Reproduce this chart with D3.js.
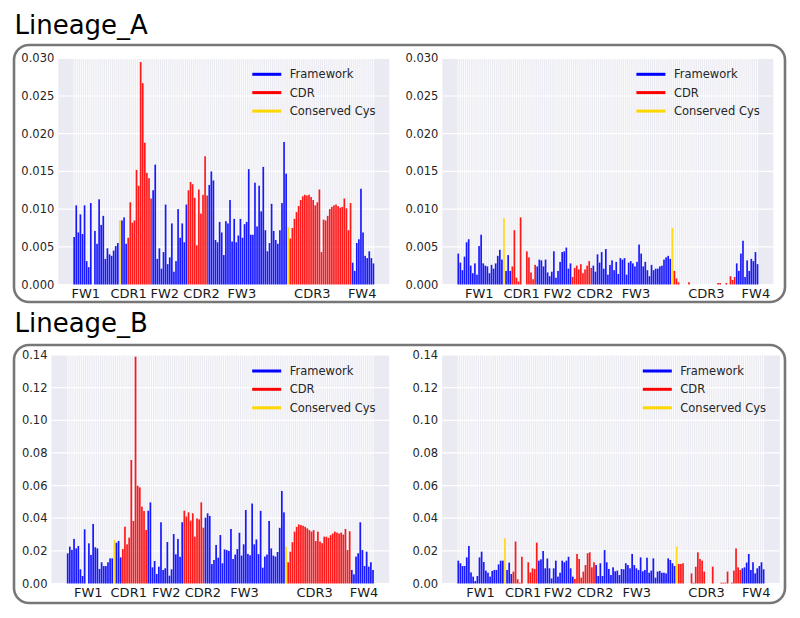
<!DOCTYPE html>
<html><head><meta charset="utf-8">
<script src="https://cdn.jsdelivr.net/npm/d3@7"></script>
<style>body{margin:0;background:#fff}svg{display:block}</style>
</head><body><svg id="c" width="800" height="618"></svg>
<script>
// ---------- data ----------
const regionNames = ["FW1","CDR1","FW2","CDR2","FW3","CDR3","FW4"];
const regionStarts = [0,26,38,55,65,104,134];
const nPositions = 145;
const cysPositions = [22,103];
const legendLabels = ["Framework","CDR","Conserved Cys"];
const lineageTitles = ["Lineage_A","Lineage_B"];
const yTicksA = [0,0.005,0.010,0.015,0.020,0.025,0.030];
const yTicksB = [0,0.02,0.04,0.06,0.08,0.10,0.12,0.14];

// tick-label positions (in position index units)
const tickPosALeft  = [5.6,26.2,43.6,61.3,80.7,114.6,138.6];
const tickPosARight = [10.1,30.5,47.9,65.8,85.5,119.4,143.2];
const tickPosBLeft  = [9.7,28.8,46.5,63.8,83.4,116.5,139.8];
const tickPosBRight = [10.5,30.6,47.1,64.6,84.2,117.1,140.5];

const valuesALeft = [
 0.0063,0.0105,0.0069,0.0093,0.0067,0.0105,0.0031,0.0023,0.0108,0,0.0071,0.0054,0.0113,0.0079,0.0091,0.0034,0.0048,0.0040,0.0038,0.0045,0.0051,0.0055,
 0.0085,
 0.0085,0.0089,0.0054,
 0.0062,0.0109,0.0082,0.0085,0.0152,0.0131,0.0295,0.0267,0.0188,0.0148,0.0141,0.0114,
 0.0125,0.0159,0.0034,0.0048,0.0021,0.0043,0.0106,0.0027,0.0036,0.0081,0.0017,0.0031,0.0100,0.0062,0.0081,0.0056,0.0106,
 0.0125,0.0136,0.0133,0.0115,0.0052,0.0126,0.0094,0.0119,0.0170,0.0118,
 0.0132,0.0150,0.0138,0.0059,0.0056,0.0083,0.0069,0.0039,0.0084,0.0081,0.0112,0.0057,0.0087,0.0056,0.0065,0.0087,0.0062,0.0080,0.0083,0.0153,0.0066,0.0066,0.0135,0.0077,0.0131,0.0097,0.0156,0.0072,0.0044,0.0055,0.0107,0.0071,0.0059,0.0054,0.0072,0.0108,0.0189,0.0147,0.0076,
 0.0061,0.0075,0.0087,0.0096,0.0104,0.0112,0.0117,0.0119,0.0118,0.0119,0.0116,0.0112,0.0105,0.0109,0.0126,0.0043,0.0086,0.0085,0.0091,0.0100,0.0103,0.0105,0.0106,0.0104,0.0102,0.0103,0.0114,0.0101,0.0072,0.0108,
 0.0029,0.0018,0.0055,0.0060,0.0127,0.0069,0.0038,0.0035,0.0044,0.0035,0.0028
];
const valuesARight = [
 0.0041,0.0029,0.0019,0.0037,0.0056,0.0060,0.0025,0.0015,0.0028,0.0013,0.0051,0.0066,0.0028,0.0025,0.0024,0.0015,0.0026,0.0021,0.0028,0.0038,0.0046,0.0033,
 0.0088,
 0.0018,0.0039,0.0018,
 0.0024,0.0072,0.0009,0.0004,0.0089,0,0,0.0044,0.0036,0.0016,0.0007,0.0026,
 0.0024,0.0033,0.0032,0.0024,0.0033,0.0016,0.0011,0.0017,0.0044,0.0009,0.0018,0.0030,0.0043,0.0044,0.0049,0.0021,0.0028,
 0.0010,0.0022,0.0025,0.0020,0.0027,0.0015,0.0020,0.0025,0.0031,0.0022,
 0.0025,0.0017,0.0040,0.0029,0.0043,0.0021,0.0047,0.0013,0.0026,0.0032,0.0019,0.0030,0.0014,0.0035,0.0033,0.0035,0.0013,0.0029,0.0031,0.0028,0.0024,0.0030,0.0053,0.0041,0.0024,0.0030,0.0019,0.0011,0.0026,0.0019,0.0021,0.0021,0.0024,0.0025,0.0033,0.0036,0.0038,0.0034,0.0075,
 0.0018,0.0008,0.0003,0,0,0,0,0.0003,0,0,0,0,0,0,0,0,0,0,0,0,0,0.0002,0.0002,0,0,0.0002,0,0.0011,0.0006,0.0010,
 0.0028,0.0018,0.0041,0.0058,0.0010,0.0032,0.0018,0.0034,0.0031,0.0043,0.0027
];
const valuesBLeft = [
 0.0185,0.0226,0.0206,0.0273,0.0215,0.0230,0.0087,0.0046,0.0332,0,0.0246,0.0175,0.0365,0.0222,0.0215,0.0089,0.0130,0.0107,0.0107,0.0130,0.0154,0.0154,
 0.0267,
 0.0250,0.0261,0.0160,
 0.0211,0.0348,0.0240,0.0281,0.0757,0.0383,0.1390,0.0599,0.0589,0.0471,0.0444,0.0328,
 0.0446,0.0497,0.0099,0.0138,0.0058,0.0103,0.0375,0.0083,0.0093,0.0254,0.0048,0.0087,0.0303,0.0179,0.0273,0.0164,0.0375,
 0.0446,0.0410,0.0436,0.0385,0.0430,0.0287,0.0399,0.0393,0.0497,0.0342,
 0.0403,0.0430,0.0414,0.0119,0.0144,0.0236,0.0158,0.0297,0.0124,0.0209,0.0205,0.0200,0.0334,0.0150,0.0177,0.0211,0.0311,0.0171,0.0240,0.0450,0.0181,0.0173,0.0490,0.0240,0.0270,0.0180,0.0445,0.0097,0.0165,0.0177,0.0383,0.0215,0.0171,0.0165,0.0193,0.0341,0.0567,0.0436,0.0226,
 0.0130,0.0195,0.0253,0.0318,0.0347,0.0362,0.0358,0.0354,0.0347,0.0338,0.0327,0.0318,0.0327,0.0260,0.0318,0.0257,0.0247,0.0287,0.0287,0.0280,0.0296,0.0306,0.0318,0.0312,0.0306,0.0312,0.0300,0.0334,0.0205,0.0320,
 0.0083,0.0056,0.0165,0.0185,0.0375,0.0205,0.0107,0.0195,0.0103,0.0130,0.0083
];
const valuesBRight = [
 0.0140,0.0124,0.0107,0.0107,0.0160,0.0230,0.0068,0.0042,0.0015,0.0046,0.0160,0.0195,0.0132,0.0079,0.0066,0.0042,0.0077,0.0083,0.0083,0.0117,0.0140,0.0140,
 0.0277,
 0.0083,0.0128,0.0058,
 0.0073,0.0257,0.0026,0.0005,0.0164,0,0,0.0130,0.0068,0.0093,0.0089,0.0250,
 0.0140,0.0148,0.0199,0.0093,0.0153,0.0093,0.0031,0.0093,0.0140,0.0042,0.0066,0.0140,0.0130,0.0140,0.0164,0.0093,0.0042,
 0.0028,0.0181,0.0150,0.0036,0.0073,0.0113,0.0185,0.0191,0.0099,0.0130,
 0.0113,0.0046,0.0124,0.0046,0.0205,0.0130,0.0089,0.0052,0.0099,0.0075,0.0079,0.0052,0.0089,0.0087,0.0124,0.0113,0.0093,0.0181,0.0113,0.0093,0.0083,0.0160,0.0075,0.0083,0.0158,0.0066,0.0079,0.0154,0.0036,0.0073,0.0077,0.0066,0.0066,0.0062,0.0154,0.0144,0.0124,0.0107,0.0226,
 0.0120,0.0120,0.0124,0,0,0,0.0062,0.0005,0.0103,0.0191,0.0150,0.0140,0.0073,0,0,0,0.0103,0,0,0,0.0005,0.0005,0.0005,0.0073,0,0.0005,0.0079,0.0215,0.0099,0.0083,
 0.0093,0.0099,0.0128,0.0181,0.0083,0.0130,0.0062,0.0093,0.0107,0.0130,0.0087
];

// ---------- styling / layout ----------
const COLORS = {fw:"#0000ff", cdr:"#ff0000", cys:"#ffd700"};
const FONT = "'DejaVu Sans', sans-serif";
const svg = d3.select("#c");

function regionIndex(i){ let r=0; regionStarts.forEach((s,k)=>{ if(i>=s) r=k; }); return r; }
function colorOf(i){ if(cysPositions.includes(i)) return COLORS.cys; return regionIndex(i)%2===1 ? COLORS.cdr : COLORS.fw; }

// boxes and titles
const boxes = [{y:45,h:257,ty:34},{y:345,h:258,ty:332}];
boxes.forEach((b,k)=>{
  svg.append("rect").attr("x",14).attr("y",b.y).attr("width",771).attr("height",b.h)
    .attr("rx",15).attr("ry",15).attr("fill","none").attr("stroke","#777").attr("stroke-width",2.6);
  svg.append("text").attr("x",14.5).attr("y",b.ty).text(lineageTitles[k])
    .attr("font-family",FONT).attr("font-size",26).attr("fill","#000");
});

const panels = [
  {vals:valuesALeft,  ticks:tickPosALeft,  yt:yTicksA, fmt:".3f", ymax:0.030, l:58.3,  r:389.3, t:58.3, b:284.5},
  {vals:valuesARight, ticks:tickPosARight, yt:yTicksA, fmt:".3f", ymax:0.030, l:442.4, r:773.4, t:58.3, b:284.5},
  {vals:valuesBLeft,  ticks:tickPosBLeft,  yt:yTicksB, fmt:".2f", ymax:0.14,  l:51.5,  r:389.2, t:355,  b:583.5},
  {vals:valuesBRight, ticks:tickPosBRight, yt:yTicksB, fmt:".2f", ymax:0.14,  l:442.1, r:779.8, t:355,  b:583.5}
];

const span = (nPositions-1) + 0.8, marg = span*0.05;
panels.forEach(p=>{
  const x = d3.scaleLinear().domain([-0.4-marg, nPositions-1+0.4+marg]).range([p.l,p.r]);
  const y = d3.scaleLinear().domain([0,p.ymax]).range([p.b,p.t]);
  const g = svg.append("g");
  g.append("rect").attr("x",p.l).attr("y",p.t).attr("width",p.r-p.l).attr("height",p.b-p.t).attr("fill","#eaeaf2");
  // vertical grid (one per position)
  g.selectAll(".vg").data(d3.range(nPositions)).join("line")
    .attr("x1",d=>x(d)).attr("x2",d=>x(d)).attr("y1",p.t).attr("y2",p.b)
    .attr("stroke","#fff").attr("stroke-width",0.8);
  // horizontal grid
  g.selectAll(".hg").data(p.yt).join("line")
    .attr("x1",p.l).attr("x2",p.r).attr("y1",d=>y(d)).attr("y2",d=>y(d))
    .attr("stroke","#fff").attr("stroke-width",1.2);
  // bars
  g.selectAll(".bar").data(p.vals.map((v,i)=>({v,i})).filter(d=>d.v>0)).join("rect")
    .attr("x",d=>x(d.i-0.4)).attr("width",d=>x(d.i+0.4)-x(d.i-0.4))
    .attr("y",d=>y(d.v)).attr("height",d=>y(0)-y(d.v))
    .attr("fill",d=>colorOf(d.i)).attr("fill-opacity",0.9);
  // y tick labels
  const f = d3.format(p.fmt);
  g.selectAll(".yl").data(p.yt).join("text")
    .attr("x",p.l-4).attr("y",d=>y(d)).attr("dy","0.35em").attr("text-anchor","end")
    .attr("font-family",FONT).attr("font-size",11.5).attr("fill","#262626").text(d=>f(d));
  // x tick labels
  g.selectAll(".xl").data(regionNames).join("text")
    .attr("x",(d,k)=>x(p.ticks[k])).attr("y",p.b+13).attr("text-anchor","middle")
    .attr("font-family",FONT).attr("font-size",13).attr("fill","#1a1a1a").text(d=>d);
  // legend
  const lc = [COLORS.fw, COLORS.cdr, COLORS.cys];
  const lx = p.r-137, offs=[16,34.3,52.8];
  legendLabels.forEach((lab,k)=>{
    g.append("line").attr("x1",lx).attr("x2",lx+29).attr("y1",p.t+offs[k]).attr("y2",p.t+offs[k])
      .attr("stroke",lc[k]).attr("stroke-width",3);
    g.append("text").attr("x",lx+37.5).attr("y",p.t+offs[k]).attr("dy","0.35em")
      .attr("font-family",FONT).attr("font-size",11.5).attr("fill","#262626").text(lab);
  });
});
</script>
</body></html>
